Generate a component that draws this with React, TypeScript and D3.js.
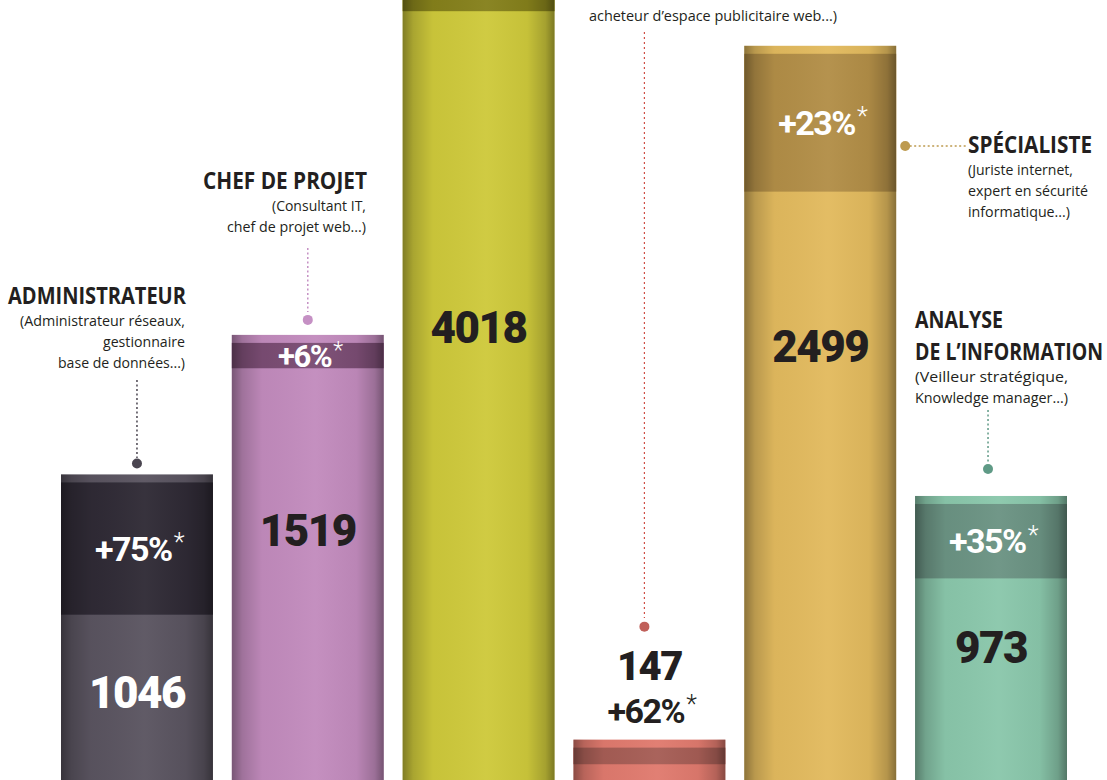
import React from "react";
import * as d3 from "d3";

// ---- data ----
const categories = ["ADMINISTRATEUR", "CHEF DE PROJET", "DÉVELOPPEUR", "WEB MARKETING", "SPÉCIALISTE", "ANALYSE DE L’INFORMATION"];
const values = [1046, 1519, 4018, 147, 2499, 973];
const growthPct = [75, 6, 52, 62, 23, 35];
const titleLines = [["ADMINISTRATEUR"], ["CHEF DE PROJET"], [], [], ["SPÉCIALISTE"], ["ANALYSE", "DE L’INFORMATION"]];
const subtitleLines = [
  ["(Administrateur réseaux,", "gestionnaire", "base de données...)"],
  ["(Consultant IT,", "chef de projet web...)"],
  [],
  ["acheteur d’espace publicitaire web...)"],
  ["(Juriste internet,", "expert en sécurité", "informatique...)"],
  ["(Veilleur stratégique,", "Knowledge manager...)"],
];

// ---- styles / layout ----
const titleWidths = [[178], [164], [], [], [124], [88, 188]];
const subtitleWidths = [[165, 82, 127], [94, 139], [], [248], [105, 120, 102], [153, 153]];
const mainColors = ["#5a5460", "#c28bbd", "#cec93b", "#e07a6e", "#e2ba5e", "#8ac7ab"];
const bandColors = ["#2f2a35", "#7a4c73", "#85801b", "#a65d55", "#b28e47", "#6b9383"];
const dotColors = ["#4a4550", "#c590c4", "#cf4f45", "#c0605a", "#bd9a4f", "#5f9a86"];
const valueColors = ["#ffffff", "#231f20", "#231f20", "#231f20", "#231f20", "#231f20"];
const valueBaselines = [708, 546, 343, 680, 362, 663];

const W = 1107, H = 780;
const BASE = 783;
const PX_PER_UNIT = 0.295;
const STRIP = 8;

const LABEL_FONT = "'Open Sans', 'Noto Sans', sans-serif";
const NUM_FONT = "Roboto, 'Open Sans', sans-serif";
const INK = "#231f20";

function Label({ x, y, text, width, bold, anchor }: { x: number; y: number; text: string; width: number; bold?: boolean; anchor?: string }) {
  return (
    <text x={x} y={y} textAnchor={anchor || "start"} fontFamily={LABEL_FONT} fontWeight={bold ? 700 : 400}
      fontSize={bold ? 23 : 15} fill={INK} textLength={width} lengthAdjust="spacingAndGlyphs">{text}</text>
  );
}

export default function App() {
  const x = d3.scaleBand<string>().domain(categories).range([61, 1067]).paddingInner(0.1105).paddingOuter(0);
  const y = d3.scaleLinear().domain([0, 4018]).range([BASE, BASE - 4018 * PX_PER_UNIT]);
  const bw = x.bandwidth();

  return (
    <svg width={W} height={H} style={{ position: "fixed", left: 0, top: 0, background: "#fff" }}>
      <defs>
        <linearGradient id="shade" x1="0" x2="1" y1="0" y2="0">
          <stop offset="0" stopColor="#000" stopOpacity={0.38} />
          <stop offset="0.07" stopColor="#000" stopOpacity={0.18} />
          <stop offset="0.2" stopColor="#000" stopOpacity={0.03} />
          <stop offset="0.55" stopColor="#fff" stopOpacity={0.04} />
          <stop offset="0.82" stopColor="#000" stopOpacity={0.04} />
          <stop offset="0.94" stopColor="#000" stopOpacity={0.2} />
          <stop offset="1" stopColor="#000" stopOpacity={0.4} />
        </linearGradient>
      </defs>
      {categories.map((c, i) => {
        const x0 = x(c)!;
        const cx = x0 + bw / 2;
        const v = values[i];
        const top = y(v);
        const prev = v / (1 + growthPct[i] / 100);
        const bandTop = top + STRIP;
        const bandH = y(prev) - top;
        const bandMid = bandTop + bandH / 2;
        const pctInside = bandH > 22;
        const pctSize = bandH < 40 ? 31 : 34;
        return (
          <g key={c}>
            <rect x={x0} y={top} width={bw} height={BASE - top} fill={mainColors[i]} />
            <rect x={x0} y={bandTop} width={bw} height={bandH} fill={bandColors[i]} />
            <rect x={x0} y={top} width={bw} height={BASE - top} fill="url(#shade)" />
            <text x={cx} y={valueBaselines[i]} textAnchor="middle" fontFamily={NUM_FONT} fontWeight={900}
              fontSize={i === 3 ? 40 : 44} letterSpacing={-1.5} fill={valueColors[i]}>{v}</text>
            {pctInside ? (
              bandMid > 0 && (
                <text x={cx + 2} y={bandMid + pctSize * 0.36} textAnchor="middle" fontFamily={NUM_FONT} fontWeight={700}
                  fontSize={pctSize} fill="#fff" letterSpacing={-1.5}>
                  +{growthPct[i]}%<tspan fontWeight={300} fontSize={pctSize * 0.75} dy={-pctSize * 0.28} dx={2}>*</tspan>
                </text>
              )
            ) : (
              <text x={cx + 2} y={723} textAnchor="middle" fontFamily={NUM_FONT} fontWeight={700}
                fontSize={34} fill={INK} letterSpacing={-1.5}>
                +{growthPct[i]}%<tspan fontWeight={300} fontSize={25} dy={-10} dx={2}>*</tspan>
              </text>
            )}
          </g>
        );
      })}

      {/* Administrateur */}
      {(() => {
        const i = 0, cx = x(categories[i])! + bw / 2;
        return (
          <g>
            <line x1={cx} x2={cx} y1={380} y2={458} stroke={dotColors[i]} strokeWidth={1.5} strokeDasharray="2 2.5" />
            <circle cx={cx} cy={y(values[i]) - 11} r={5} fill={dotColors[i]} />
            <Label x={186} y={304} text={titleLines[i][0]} width={titleWidths[i][0]} bold anchor="end" />
            {subtitleLines[i].map((s, k) => (
              <Label key={k} x={185} y={326 + k * 21} text={s} width={subtitleWidths[i][k]} anchor="end" />
            ))}
          </g>
        );
      })()}
      {/* Chef de projet */}
      {(() => {
        const i = 1, cx = x(categories[i])! + bw / 2;
        return (
          <g>
            <line x1={cx} x2={cx} y1={248} y2={312} stroke={dotColors[i]} strokeWidth={1.5} strokeDasharray="2 2.5" />
            <circle cx={cx} cy={y(values[i]) - 15} r={5} fill={dotColors[i]} />
            <Label x={367} y={189} text={titleLines[i][0]} width={titleWidths[i][0]} bold anchor="end" />
            {subtitleLines[i].map((s, k) => (
              <Label key={k} x={366} y={211 + k * 21} text={s} width={subtitleWidths[i][k]} anchor="end" />
            ))}
          </g>
        );
      })()}
      {/* Web marketing */}
      {(() => {
        const i = 3, cx = x(categories[i])! + bw / 2 - 5;
        return (
          <g>
            <line x1={cx} x2={cx} y1={32} y2={618} stroke={dotColors[2]} strokeWidth={1.2} strokeDasharray="2 3" />
            <circle cx={cx} cy={y(values[i]) - 113} r={5} fill={dotColors[i]} />
            {subtitleLines[i].map((s, k) => (
              <Label key={k} x={713} y={21 + k * 21} text={s} width={subtitleWidths[i][k]} anchor="middle" />
            ))}
          </g>
        );
      })()}
      {/* Spécialiste */}
      {(() => {
        const i = 4;
        const xr = x(categories[i])! + bw;
        return (
          <g>
            <line x1={xr + 9} x2={966} y1={146} y2={146} stroke={dotColors[i]} strokeWidth={1.5} strokeDasharray="2 2.5" />
            <circle cx={xr + 9} cy={146} r={5} fill={dotColors[i]} />
            <Label x={968} y={153} text={titleLines[i][0]} width={titleWidths[i][0]} bold />
            {subtitleLines[i].map((s, k) => (
              <Label key={k} x={968} y={175 + k * 21} text={s} width={subtitleWidths[i][k]} />
            ))}
          </g>
        );
      })()}
      {/* Analyse */}
      {(() => {
        const i = 5, cx = x(categories[i])! + bw / 2 - 3;
        return (
          <g>
            <line x1={cx} x2={cx} y1={410} y2={462} stroke={dotColors[i]} strokeWidth={1.5} strokeDasharray="2 2.5" />
            <circle cx={cx} cy={y(values[i]) - 27} r={5} fill={dotColors[i]} />
            {titleLines[i].map((s, k) => (
              <Label key={k} x={915} y={328 + k * 32} text={s} width={titleWidths[i][k]} bold />
            ))}
            {subtitleLines[i].map((s, k) => (
              <Label key={k} x={915} y={382 + k * 21} text={s} width={subtitleWidths[i][k]} />
            ))}
          </g>
        );
      })()}
    </svg>
  );
}
